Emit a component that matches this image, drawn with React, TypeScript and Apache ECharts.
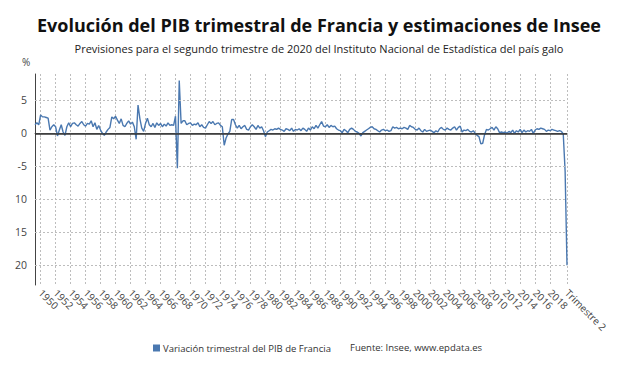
import React, { useEffect, useRef } from "react";
import * as echarts from "echarts";

const startYear = 1949;
const startQuarter = 2;
const endYear = 2020;
const endQuarter = 2;
const lastLabel = "Trimestre 2";

// Quarterly GDP variation (%), 1949 T2 .. 2020 T2
const gdp1949to1973 = [
  1.3, 1.6, 1.3, 2.8, 2.5, 2.5, 2.4, 2.3, 0.5, 1.0,
  1.3, 1.0, -0.4, 0.5, 1.3, 0.2, -0.3, 1.0, 1.6, 1.0,
  1.5, 1.6, 1.3, 1.1, 1.5, 1.8, 1.3, 1.1, 1.5, 1.4,
  1.9, 1.0, 1.6, 0.6, 1.2, 0.5, 0.0, -0.3, 0.2, 0.6,
  0.9, 2.5, 2.2, 2.6, 2.0, 1.5, 2.2, 1.2, 1.0, 1.5,
  1.9, 1.4, 1.7, 1.0, -0.9, 4.3, 2.2, 0.8, 0.3, 1.5,
  2.3, 1.3, 1.0, 1.5, 0.9, 1.6, 1.2, 1.5, 1.0, 1.4,
  1.1, 1.6, 1.2, 1.3, 1.2, 2.6, -5.3, 8.0, 1.5, 1.9,
  1.9, 1.3, 1.5, 1.6, 1.2, 1.4, 1.3, 1.6, 1.0, 1.3,
  0.9, 0.8, 1.3, 1.8, 1.5, 1.8, 1.3, 1.5, 1.6, 1.2,
];
const gdp1974to1998 = [
  1.0, -1.8, -0.7, -0.1, 0.3, 2.1, 2.1, 1.3, 0.8, 1.2,
  0.7, 1.0, 1.2, 0.6, 0.5, 1.0, 1.3, 1.0, 0.6, 1.2,
  0.8, 1.0, 0.4, -0.5, 0.2, 0.4, 0.6, 0.5, 0.7, 0.6,
  0.8, 0.6, 0.5, 0.3, 0.7, 0.6, 0.4, 0.8, 0.3, 0.6,
  0.5, 0.7, 0.4, 0.8, 0.6, 0.3, 0.8, 0.5, 1.0, 0.7,
  1.2, 0.8, 1.3, 1.8, 1.1, 1.0, 1.3, 0.9, 1.2, 1.0,
  1.1, 0.7, 0.5, 0.4, 0.1, 0.6, 0.4, 0.1, 0.6, 0.8,
  0.6, 0.3, 0.2, 0.0, -0.4, 0.1, 0.3, 0.5, 0.7, 0.9,
  1.0, 0.7, 0.6, 0.4, 0.2, 0.5, 0.6, 0.4, 0.5, 0.3,
  0.4, 1.0, 0.8, 0.9, 0.7, 0.8, 0.7, 0.9, 0.8, 0.6,
];
const gdp1999to2020 = [
  1.2, 1.0, 0.9, 0.6, 0.5, 0.8, 0.4, 0.2, 0.6, 0.3,
  0.4, 0.5, 0.3, 0.1, 0.4, 0.2, 0.7, 0.9, 0.6, 0.5,
  0.8, 0.6, 0.5, 0.8, 1.0, 0.5, 0.9, 1.1, 0.2, 0.5,
  0.4, 0.6, 0.3, 0.2, 0.4, 0.0, -0.3, -0.5, -1.6, -1.5,
  -0.2, 0.6, 0.5, 0.7, 0.9, 0.5, 1.0, 0.7, 0.1, 0.2,
  0.1, 0.2, 0.0, 0.3, 0.1, 0.5, 0.0, 0.4, 0.2, 0.6,
  0.1, 0.5, 0.2, 0.4, 0.3, 0.6, 0.0, 0.5, 0.7, 0.6,
  0.8, 0.7, 0.6, 0.3, 0.5, 0.4, 0.6, 0.5, 0.4, 0.3,
  0.4, 0.3, -0.1, -5.8, -20.0,
];
const gdpValues = [...gdp1949to1973, ...gdp1974to1998, ...gdp1999to2020];

const yGridValues = [5, -5, -10, -15, -20];

const categories: string[] = [];
for (let y = startYear; y <= endYear; y++) {
  for (let q = 1; q <= 4; q++) {
    if (y === startYear && q < startQuarter) continue;
    if (y === endYear && q > endQuarter) continue;
    categories.push(`${y} T${q}`);
  }
}

const seriesName = "Variación trimestral del PIB de Francia";
const sourceText = "Fuente: Insee, www.epdata.es";
const titleText = "Evolución del PIB trimestral de Francia y estimaciones de Insee";
const subtitleText =
  "Previsiones para el segundo trimestre de 2020 del Instituto Nacional de Estadística del país galo";

const FONT = "'Open Sans', 'Noto Sans', sans-serif";
const GRID_COLOR = "#bdbdbd";

export default function App() {
  const ref = useRef<HTMLDivElement>(null);
  useEffect(() => {
    if (!ref.current) return;
    const chart = echarts.init(ref.current, null, { renderer: "svg" });
    const last = categories.length - 1;
    const lastCat = categories[last];
    const showIdx = (index: number, value: string) => {
      if (index === last || value === lastCat) return true;
      const y = Number(String(value).slice(0, 4));
      return String(value).endsWith("T1") && y % 2 === 0 && y < endYear;
    };
    chart.setOption({
      animation: false,
      backgroundColor: "#ffffff",
      textStyle: { fontFamily: FONT },
      title: [
        {
          text: titleText,
          left: "center",
          top: 11,
          textStyle: { fontFamily: FONT, fontSize: 18, fontWeight: "bold", color: "#111" },
        },
        {
          text: subtitleText,
          left: "center",
          top: 38,
          textStyle: { fontFamily: FONT, fontSize: 11, fontWeight: "normal", color: "#222" },
        },
      ],
      legend: {
        data: [seriesName],
        left: 148,
        top: 338,
        icon: "rect",
        itemWidth: 7,
        itemHeight: 7,
        itemGap: 5,
        textStyle: { fontFamily: FONT, fontSize: 9.5, color: "#333", padding: [0, 0, 0, -2] },
      },
      graphic: [
        {
          type: "text",
          left: 350,
          top: 342,
          style: { text: sourceText, fontFamily: FONT, fontSize: 9.5, fill: "#333" },
        },
        {
          type: "text",
          left: 22,
          top: 57,
          style: { text: "%", fontFamily: FONT, fontSize: 10, fill: "#444" },
        },
      ],
      grid: { left: 35, right: 71, top: 74, bottom: 90, containLabel: false },
      xAxis: {
        type: "category",
        data: categories,
        boundaryGap: false,
        axisLine: { lineStyle: { color: "#666", width: 1 } },
        axisTick: { show: true, interval: showIdx, length: 4, lineStyle: { color: "#bbb" } },
        splitLine: {
          show: true,
          interval: showIdx,
          lineStyle: { color: GRID_COLOR, type: [2, 2], width: 1 },
        },
        axisLabel: {
          interval: showIdx,
          rotate: -45,
          fontFamily: FONT,
          fontSize: 10,
          color: "#444",
          margin: 6,
          formatter: (value: string) =>
            value === lastCat ? lastLabel : String(value).slice(0, 4),
        },
      },
      yAxis: {
        type: "value",
        min: -23,
        max: 9,
        interval: 1,
        axisLine: { show: true, lineStyle: { color: "#444", width: 1 } },
        axisTick: { show: false },
        splitLine: { show: false },
        axisLabel: {
          fontFamily: FONT,
          fontSize: 10.5,
          color: "#444",
          margin: 8,
          formatter: (v: number) => {
            if (v % 5 !== 0) return "";
            if (v <= -10) return String(-v);
            return String(v);
          },
        },
      },
      series: [
        {
          name: seriesName,
          type: "line",
          data: gdpValues,
          showSymbol: false,
          symbol: "none",
          z: 3,
          lineStyle: { color: "#4a78b0", width: 1.4 },
          itemStyle: { color: "#4a78b0" },
          markLine: {
            silent: true,
            symbol: ["none", "none"],
            label: { show: false },
            animation: false,
            data: [
              ...yGridValues.map((v) => ({
                yAxis: v,
                lineStyle: { color: GRID_COLOR, type: [2, 2], width: 1 },
              })),
              { yAxis: 0, lineStyle: { color: "#333", type: "solid", width: 1.5 } },
            ],
          },
        },
      ],
    });
    return () => chart.dispose();
  }, []);
  return (
    <div
      ref={ref}
      style={{ position: "fixed", left: 0, top: 0, width: 638, height: 375, background: "#fff" }}
    />
  );
}
